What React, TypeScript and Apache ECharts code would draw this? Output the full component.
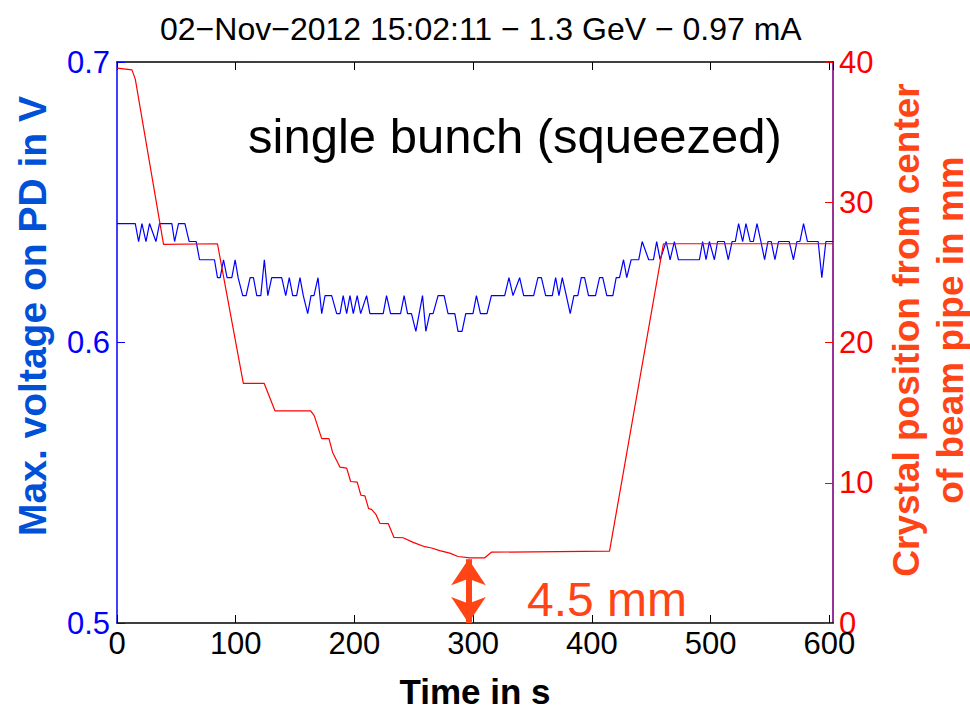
import React, { useEffect, useRef } from "react";
import * as echarts from "echarts";

const FONT = '"Liberation Sans", Arial, Helvetica, sans-serif';

const titleText = "02\u2212Nov\u22122012 15:02:11 \u2212 1.3 GeV \u2212 0.97 mA";
const xTicks = [0, 100, 200, 300, 400, 500, 600];
const leftTicks = [0.5, 0.6, 0.7];
const rightTicks = [0, 10, 20, 30, 40];

// Photodiode voltage (V) vs time (s), vertices of the trace
const blueTime = [
  0, 15.4, 18.2, 21.0, 24.4, 27.4, 32.8, 35.8, 46.2, 48.5, 51.8, 57.2, 60.8, 66.7, 69.5, 82.1,
  84.6, 86.9, 89.7, 92.7, 96.7, 99.5, 102.0, 105.9, 108.7, 112.1, 114.9, 117.7, 121.1, 124.1,
  127.0, 130.3, 138.7, 142.1, 145.1, 148.0, 151.3, 154.1, 156.9, 160.6, 163.4, 165.9, 169.3,
  172.4, 175.2, 180.8, 185.0, 187.8, 190.5, 193.4, 196.2, 199.0, 202.3, 205.2, 210.2, 213.0,
  224.2, 227.0, 230.4, 238.8, 241.8, 244.7, 248.0, 251.7, 257.3, 260.1, 263.4, 266.2, 270.4,
  275.5, 278.8, 284.5, 287.2, 290.6, 293.7, 299.8, 302.7, 306.1, 311.6, 315.3, 326.5, 330.1,
  333.5, 339.1, 342.5, 350.9, 354.5, 357.4, 361.0, 366.6, 369.4, 372.2, 375.0, 378.4, 381.7,
  384.8, 388.1, 391.0, 393.8, 397.1, 403.0, 406.4, 409.1, 412.5, 417.6, 420.4, 423.2, 426.6,
  429.3, 433.0, 439.4, 442.3, 447.8, 451.8, 454.5, 457.4, 462.5, 465.8, 469.4, 472.8, 490.5,
  493.2, 496.1, 498.9, 503.1, 505.8, 511.5, 514.8, 518.0, 520.7, 523.5, 526.9, 529.7, 533.3,
  535.9, 539.0, 542.3, 545.4, 548.2, 551.0, 554.1, 557.1, 566.1, 569.7, 572.6, 575.1, 578.2,
  581.5, 590.5, 593.6, 597.0, 603.0,
];
const blueVolt = [
  0.6424, 0.6424, 0.636, 0.6424, 0.636, 0.6424, 0.636, 0.6424, 0.6424, 0.636, 0.6424, 0.6424,
  0.636, 0.636, 0.6295, 0.6295, 0.6231, 0.6231, 0.6295, 0.6231, 0.6231, 0.6295, 0.6231, 0.6167,
  0.6167, 0.6231, 0.6231, 0.6167, 0.6167, 0.6295, 0.6167, 0.6231, 0.6231, 0.6167, 0.6231, 0.6167,
  0.6167, 0.6231, 0.6167, 0.6103, 0.6167, 0.6167, 0.6231, 0.6103, 0.6167, 0.6167, 0.6103, 0.6103,
  0.6167, 0.6103, 0.6167, 0.6103, 0.6167, 0.6103, 0.6167, 0.6103, 0.6103, 0.6167, 0.6103, 0.6103,
  0.6167, 0.6103, 0.6103, 0.604, 0.6167, 0.604, 0.6103, 0.6103, 0.6167, 0.6167, 0.6103, 0.6103,
  0.604, 0.604, 0.6103, 0.6103, 0.6167, 0.6103, 0.6103, 0.6167, 0.6167, 0.6231, 0.6167, 0.6231,
  0.6167, 0.6167, 0.6231, 0.6231, 0.6167, 0.6167, 0.6231, 0.6167, 0.6231, 0.6167, 0.6103, 0.6167,
  0.6167, 0.6231, 0.6231, 0.6167, 0.6167, 0.6231, 0.6231, 0.6167, 0.6167, 0.6231, 0.6231, 0.6295,
  0.6231, 0.6295, 0.6295, 0.636, 0.6295, 0.6295, 0.636, 0.6295, 0.636, 0.6295, 0.636, 0.6295,
  0.6295, 0.636, 0.6295, 0.636, 0.6295, 0.636, 0.636, 0.6295, 0.636, 0.636, 0.6424, 0.636,
  0.6424, 0.636, 0.636, 0.6424, 0.636, 0.6295, 0.636, 0.636, 0.6295, 0.636, 0.636, 0.6295,
  0.636, 0.636, 0.6424, 0.636, 0.636, 0.6231, 0.636, 0.636,
];

// Crystal position (mm) vs time (s)
const redTime = [
  0, 12.6, 15.4, 39.2, 84.6, 106.4, 123.9, 133.1, 163.1, 166.1, 172.4, 178.5, 181.6, 187.8,
  193.4, 196.8, 202.3, 205.4, 208.8, 211.9, 214.4, 218.0, 221.4, 228.4, 233.2, 241.0, 249.4,
  259.2, 264.9, 271.8, 280.3, 287.2, 297.1, 309.7, 315.3, 414.8, 460.2, 603.0,
];
const redPos = [
  39.56, 39.44, 38.78, 26.99, 27.04, 17.09, 17.09, 15.12, 15.12, 14.79, 13.15, 13.15, 12.16,
  11.11, 11.04, 10.09, 10.05, 9.11, 9.06, 8.15, 8.1, 7.75, 7.11, 7.09, 6.11, 6.08, 5.75, 5.44,
  5.35, 5.16, 4.98, 4.74, 4.65, 4.65, 5.05, 5.12, 27.04, 27.04,
];

const arrowTime = 296;
const arrowTop = 4.55;
const arrowBottom = 0;

const ORANGE = "#FF4415";

export default function App() {
  const ref = useRef<HTMLDivElement>(null);
  useEffect(() => {
    if (!ref.current) return;
    const chart = echarts.init(ref.current, undefined, { renderer: "svg" });
    const blueData = blueTime.map((t, i) => [t, blueVolt[i]]);
    const redData = redTime.map((t, i) => [t, redPos[i]]);
    const option: any = {
      animation: false,
      backgroundColor: "#ffffff",
      textStyle: { fontFamily: FONT },
      title: {
        text: titleText,
        left: 155,
        top: 8,
        textStyle: { fontFamily: FONT, fontSize: 32, fontWeight: "normal", color: "#000" },
      },
      grid: { left: 117, right: 137, top: 62, bottom: 84 },
      xAxis: [
        {
          type: "value",
          position: "bottom",
          min: xTicks[0],
          max: 603,
          interval: 100,
          axisLine: { show: true, onZero: false, lineStyle: { color: "#000", width: 1.5 } },
          axisTick: { show: true, inside: true, length: 8, lineStyle: { color: "#000" } },
          axisLabel: {
            show: true,
            fontSize: 31,
            color: "#000",
            fontFamily: FONT,
            margin: 5,
            showMaxLabel: false,
            formatter: (v: number) => (xTicks.includes(v) ? String(v) : ""),
          },
          splitLine: { show: false },
          name: "Time in s",
          nameLocation: "middle",
          nameGap: 51,
          nameTextStyle: { fontSize: 35, fontWeight: "bold", color: "#000", fontFamily: FONT },
        },
        {
          type: "value",
          position: "top",
          min: xTicks[0],
          max: 603,
          interval: 100,
          axisLine: { show: true, onZero: false, lineStyle: { color: "#000", width: 1.5 } },
          axisTick: { show: true, inside: true, length: 8, lineStyle: { color: "#000" } },
          axisLabel: { show: false },
          splitLine: { show: false },
        },
      ],
      yAxis: [
        {
          type: "value",
          position: "left",
          min: leftTicks[0],
          max: leftTicks[leftTicks.length - 1],
          interval: 0.1,
          axisLine: { show: true, onZero: false, lineStyle: { color: "#0000FF", width: 1.5 } },
          axisTick: { show: true, inside: true, length: 8, lineStyle: { color: "#0000FF" } },
          axisLabel: { fontSize: 31, color: "#0000FF", fontFamily: FONT, margin: 7, formatter: (v: number) => v.toFixed(1) },
          splitLine: { show: false },
        },
        {
          type: "value",
          position: "right",
          min: rightTicks[0],
          max: rightTicks[rightTicks.length - 1],
          interval: 10,
          axisLine: { show: true, onZero: false, lineStyle: { color: "#993399", width: 2 } },
          axisTick: { show: true, inside: true, length: 8, lineStyle: { color: "#FF0000" } },
          axisLabel: { fontSize: 31, color: "#FF0000", fontFamily: FONT, margin: 6 },
          splitLine: { show: false },
        },
      ],
      series: [
        {
          type: "line",
          name: "PD voltage",
          xAxisIndex: 0,
          yAxisIndex: 0,
          data: blueData,
          showSymbol: false,
          lineStyle: { color: "#0000FF", width: 1.2 },
          itemStyle: { color: "#0000FF" },
        },
        {
          type: "line",
          name: "Crystal position",
          xAxisIndex: 0,
          yAxisIndex: 1,
          data: redData,
          showSymbol: false,
          lineStyle: { color: "#FF0000", width: 1.2 },
          itemStyle: { color: "#FF0000" },
          markLine: {
            silent: true,
            symbol: ["arrow", "arrow"],
            symbolSize: [26, 26],
            label: { show: false },
            lineStyle: { color: ORANGE, width: 6, type: "solid" },
            data: [[{ coord: [arrowTime, arrowTop] }, { coord: [arrowTime, arrowBottom] }]],
          },
        },
      ],
      graphic: [
        {
          type: "text",
          x: 248,
          y: 136,
          style: {
            text: "single bunch (squeezed)",
            fontSize: 49,
            fontFamily: FONT,
            fill: "#000",
            align: "left",
            verticalAlign: "middle",
          },
        },
        {
          type: "text",
          x: 527,
          y: 599,
          style: {
            text: "4.5 mm",
            fontSize: 48,
            fontFamily: FONT,
            fill: ORANGE,
            align: "left",
            verticalAlign: "middle",
          },
        },
        {
          type: "text",
          x: 32,
          y: 316,
          rotation: Math.PI / 2,
          style: {
            text: "Max. voltage on PD in V",
            fontSize: 39,
            fontWeight: "bold",
            fontFamily: FONT,
            fill: "#0050D8",
            align: "center",
            verticalAlign: "middle",
          },
        },
        {
          type: "text",
          x: 928,
          y: 330,
          rotation: Math.PI / 2,
          style: {
            text: "Crystal position from center\nof beam pipe in mm",
            fontSize: 37,
            lineHeight: 44,
            fontWeight: "bold",
            fontFamily: FONT,
            fill: ORANGE,
            align: "center",
            verticalAlign: "middle",
          },
        },
      ],
    };
    chart.setOption(option);
    return () => chart.dispose();
  }, []);
  return (
    <div
      ref={ref}
      style={{ position: "fixed", left: 0, top: 0, width: 970, height: 714, background: "#fff" }}
    />
  );
}
